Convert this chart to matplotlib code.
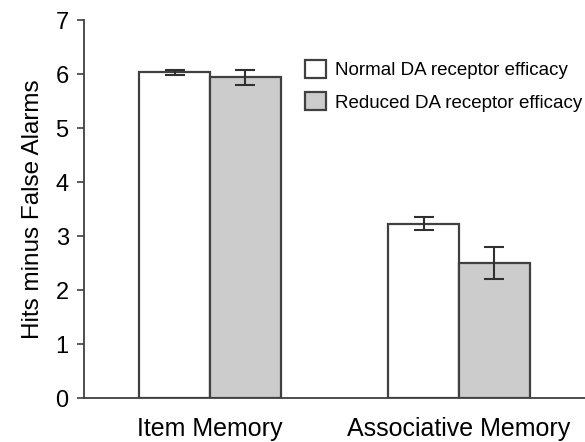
import numpy as np
from matplotlib import pyplot as plt

plt.rcParams['font.family'] = ['Liberation Sans', 'DejaVu Sans']

categories = ['Item Memory', 'Associative Memory']
series_names = ['Normal DA receptor efficacy', 'Reduced DA receptor efficacy']
normal = [6.03, 3.23]
normal_err = [0.04, 0.115]
reduced = [5.94, 2.50]
reduced_err = [0.14, 0.30]

fig = plt.figure(figsize=(5.85, 4.42), dpi=100)
ax = fig.add_axes([0.1436, 0.0995, 0.8564, 0.855])

x = np.arange(len(categories))
w = 0.285
edge = '#404040'
ax.bar(x - w / 2, normal, w, color='white', edgecolor=edge, linewidth=1.6,
       label=series_names[0])
ax.bar(x + w / 2, reduced, w, color='#cccccc', edgecolor=edge, linewidth=1.6,
       label=series_names[1])
ax.errorbar(x - w / 2, normal, yerr=normal_err, fmt='none', ecolor='#303030',
            elinewidth=1.5, capsize=7, capthick=1.5)
ax.errorbar(x + w / 2, reduced, yerr=reduced_err, fmt='none', ecolor='#303030',
            elinewidth=1.5, capsize=7, capthick=1.5)

ax.set_xlim(-0.506, 1.506)
ax.set_ylim(0, 7)
ax.set_yticks(range(8))
ax.set_xticks(x)
ax.set_xticklabels(categories, fontsize=18)
ax.tick_params(axis='x', length=0, pad=14)
ax.tick_params(axis='y', labelsize=17, length=5, width=1.2, color=edge, pad=6)
ax.set_ylabel('Hits minus False Alarms', fontsize=17.5, labelpad=8)

for s in ['top', 'right']:
    ax.spines[s].set_visible(False)
for s in ['left', 'bottom']:
    ax.spines[s].set_color(edge)
    ax.spines[s].set_linewidth(1.3)

ax.legend(loc='upper right', bbox_to_anchor=(1.028, 0.94), frameon=False,
          fontsize=13.5, handlelength=1.1, handleheight=1.1, handletextpad=0.5,
          labelspacing=0.7)

fig.savefig('out.png', dpi=100)
